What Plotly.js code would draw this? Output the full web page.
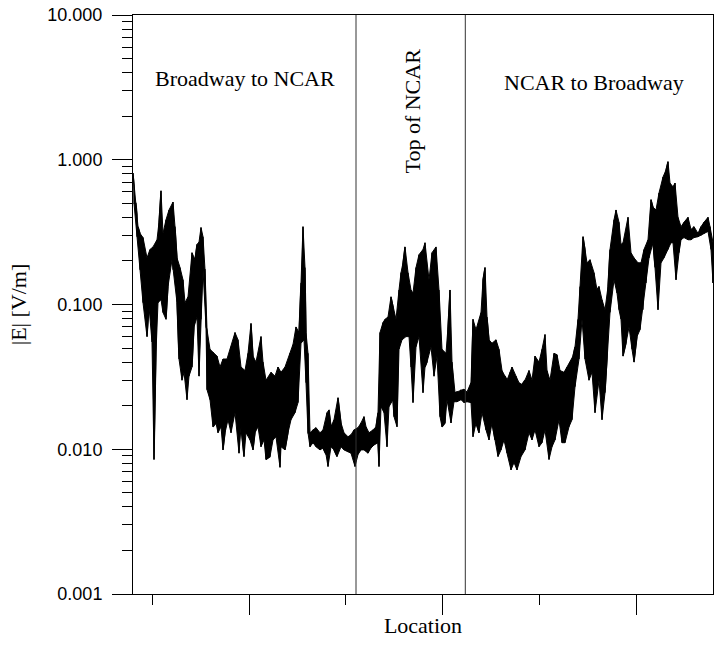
<!DOCTYPE html>
<html>
<head>
<meta charset="utf-8">
<script src="https://cdn.plot.ly/plotly-3.0.1.min.js"></script>
<style>
html,body{margin:0;padding:0;background:#fff;}
#chart{width:714px;height:651px;}
</style>
</head>
<body>
<div id="chart"></div>
<script>
// Upper envelope of the measured |E| trace (Location units, V/m)
var xHi = [
  0,1,3,4,5,7,10,14,17,20,
  24,26,28,30,33,36,40,42,44,47,
  50,52,55,59,62,64,66,68,70,72,
  74,77,80,84,87,90,94,98,102,105,
  108,112,115,118,120,123,128,130,133,138,
  142,145,148,152,157,160,163,166,168,170,
  172,173,175,177,180,183,187,190,194,196,
  198,201,205,208,211,215,218,221,225,228,
  231,233,236,240,243,245,247,250,252,255,
  258,260,263,266,268,270,272,275,278,280,
  283,286,290,292,296,299,303,306,309,313,
  315,317,319,322,324,328,331,334,338,340,
  343,348,350,352,354,356,359,363,366,369,
  372,374,377,379,383,386,389,392,396,399,
  402,406,409,412,414,417,421,424,427,431,
  434,437,440,442,445,447,450,452,454,457,
  461,464,466,469,472,475,477,481,483,486,
  488,490,495,498,501,505,508,511,515,518,
  520,523,526,530,533,535,537,540,542,545,
  548,551,555,558,561,565,568,571,575,577,
  580
];
var eHi = [
  0.81,0.67,0.50,0.42,0.345,0.31,0.29,0.21,0.24,0.25,
  0.28,0.37,0.61,0.31,0.385,0.45,0.51,0.345,0.21,0.18,
  0.148,0.103,0.113,0.228,0.204,0.26,0.27,0.34,0.294,0.174,
  0.067,0.049,0.047,0.044,0.037,0.042,0.042,0.051,0.064,0.057,
  0.037,0.035,0.046,0.074,0.044,0.040,0.060,0.040,0.030,0.034,
  0.032,0.037,0.034,0.037,0.046,0.053,0.070,0.064,0.141,0.345,
  0.18,0.064,0.046,0.013,0.0136,0.0141,0.013,0.0136,0.0179,0.0187,
  0.0143,0.016,0.0227,0.0152,0.013,0.0122,0.0126,0.0136,0.0141,0.0152,
  0.0168,0.0143,0.013,0.0136,0.0143,0.0179,0.064,0.075,0.079,0.082,
  0.113,0.0965,0.079,0.126,0.166,0.194,0.25,0.166,0.126,0.12,
  0.18,0.221,0.24,0.267,0.148,0.228,0.25,0.126,0.049,0.046,
  0.070,0.126,0.040,0.0246,0.0249,0.0258,0.026,0.0249,0.0288,0.079,
  0.067,0.088,0.148,0.18,0.082,0.057,0.054,0.057,0.049,0.035,
  0.032,0.030,0.034,0.037,0.032,0.0288,0.028,0.030,0.035,0.030,
  0.044,0.040,0.049,0.062,0.035,0.030,0.046,0.045,0.035,0.034,
  0.037,0.040,0.044,0.051,0.079,0.133,0.294,0.24,0.194,0.204,
  0.166,0.126,0.133,0.108,0.092,0.133,0.24,0.385,0.45,0.37,
  0.26,0.267,0.40,0.228,0.21,0.194,0.194,0.24,0.28,0.53,
  0.47,0.45,0.59,0.76,0.85,0.97,0.69,0.65,0.69,0.40,
  0.345,0.37,0.40,0.33,0.345,0.31,0.345,0.37,0.40,0.345,
  0.267
];
// Lower envelope of the measured |E| trace
var xLo = [
  1,4,7,10,14,16,19,21,23,25,
  28,30,33,35,39,40,44,46,49,51,
  54,56,59,61,64,66,68,70,73,74,
  77,80,83,85,88,90,92,95,98,102,
  106,108,111,113,117,120,122,125,128,131,
  133,137,140,143,147,148,152,155,158,162,
  165,168,171,173,175,177,180,183,187,190,
  193,195,198,201,204,208,211,215,218,222,
  225,228,231,235,238,241,245,246,248,251,
  254,256,260,261,264,266,269,273,276,278,
  280,283,286,290,292,294,298,301,304,307,
  309,312,314,318,321,324,328,331,334,338,
  340,343,346,349,353,356,359,362,365,368,
  371,374,378,381,384,388,392,396,399,402,
  406,409,412,416,419,422,426,429,432,436,
  439,442,446,449,452,456,459,462,466,469,
  472,474,477,481,484,486,488,490,493,496,
  499,501,504,507,510,513,516,520,522,525,
  528,531,535,538,540,543,546,548,551,555,
  558,561,565,568,571,575,578,580
];
var eLo = [
  0.50,0.294,0.174,0.103,0.060,0.0965,0.055,0.0085,0.047,0.103,
  0.108,0.088,0.079,0.133,0.204,0.174,0.103,0.042,0.030,0.034,
  0.022,0.032,0.037,0.070,0.082,0.032,0.079,0.174,0.070,0.0258,
  0.022,0.0143,0.0152,0.013,0.0143,0.0099,0.013,0.016,0.013,0.0179,
  0.0094,0.0143,0.0089,0.013,0.0116,0.0099,0.013,0.0143,0.0104,0.0116,
  0.0085,0.0089,0.0116,0.0122,0.0075,0.0104,0.0099,0.013,0.016,0.0179,
  0.021,0.054,0.057,0.0288,0.013,0.0104,0.0111,0.0104,0.0099,0.0102,
  0.0092,0.0076,0.0104,0.0099,0.0089,0.0104,0.0099,0.0096,0.0094,0.0076,
  0.0092,0.0099,0.0099,0.0094,0.0102,0.0107,0.0111,0.0076,0.0197,0.0179,
  0.0104,0.0197,0.022,0.0168,0.0143,0.049,0.057,0.060,0.060,0.037,
  0.021,0.051,0.060,0.0246,0.037,0.040,0.051,0.032,0.044,0.0168,
  0.0143,0.0152,0.022,0.0152,0.0213,0.0213,0.022,0.021,0.0213,0.021,
  0.0122,0.0152,0.013,0.0179,0.0136,0.0116,0.0152,0.0116,0.0089,0.0099,
  0.0116,0.0094,0.0072,0.0081,0.0072,0.0089,0.0099,0.013,0.0116,0.0136,
  0.0104,0.0111,0.0136,0.0085,0.0104,0.0116,0.016,0.0111,0.0111,0.0143,
  0.016,0.027,0.042,0.079,0.042,0.030,0.034,0.0179,0.030,0.016,
  0.0246,0.042,0.088,0.148,0.12,0.092,0.079,0.044,0.054,0.070,
  0.049,0.040,0.060,0.067,0.092,0.141,0.21,0.267,0.18,0.092,
  0.194,0.21,0.24,0.267,0.267,0.148,0.228,0.28,0.29,0.28,
  0.28,0.29,0.294,0.30,0.31,0.32,0.24,0.141
];
// Segment boundaries (Location units) and labels
var segBounds = [223, 332.3];
var segLabels = ["Broadway to NCAR", "Top of NCAR", "NCAR to Broadway"];
var yTickLabels = ["0.001", "0.010", "0.100", "1.000", "10.000"];

// Band polygon (upper envelope forward, lower envelope back)
var polyX = xHi.concat(xLo.slice().reverse());
var polyY = eHi.concat(eLo.slice().reverse());

// Noise trace: the same readings visited in Location order
var merged = xHi.map(function (x, i) { return [x, eHi[i]]; })
  .concat(xLo.map(function (x, i) { return [x, eLo[i]]; }))
  .sort(function (a, b) { return a[0] - b[0]; });

var serif = "Liberation Serif, Times New Roman, Times, serif";
var sans = "Liberation Sans, Arial, Helvetica, sans-serif";

var traces = [{
  type: 'scatter', mode: 'lines',
  x: polyX, y: polyY,
  fill: 'toself', fillcolor: '#000',
  line: {color: '#000', width: 1},
  hoverinfo: 'skip', showlegend: false
}, {
  type: 'scatter', mode: 'lines',
  x: merged.map(function (p) { return p[0]; }),
  y: merged.map(function (p) { return p[1]; }),
  line: {color: '#000', width: 1.3},
  hoverinfo: 'skip', showlegend: false
}];

var annFont = {family: serif, size: 22, color: '#000'};

var layout = {
  width: 714, height: 651,
  margin: {l: 133, r: 1, t: 15, b: 57, pad: 0},
  paper_bgcolor: '#fff', plot_bgcolor: '#fff',
  showlegend: false,
  font: {family: sans, color: '#000'},
  xaxis: {
    range: [0, 580], showgrid: false, zeroline: false,
    showline: true, mirror: true, linecolor: '#000', linewidth: 1,
    ticks: 'outside', ticklen: 20, tickwidth: 1, tickcolor: '#000',
    tickmode: 'linear', tick0: 116.1, dtick: 193.5,
    showticklabels: false,
    minor: {ticks: 'outside', ticklen: 10, tickwidth: 1, tickcolor: '#000',
            tickmode: 'linear', tick0: 19.35, dtick: 96.75, showgrid: false},
    title: {text: 'Location', font: {family: serif, size: 22, color: '#000'}, standoff: 3}
  },
  yaxis: {
    type: 'log', range: [-3, 1], showgrid: false, zeroline: false,
    showline: true, mirror: true, linecolor: '#000', linewidth: 1,
    ticks: 'outside', ticklen: 20, tickwidth: 1, tickcolor: '#000',
    tickmode: 'array', tickvals: [0.001, 0.01, 0.1, 1, 10], ticktext: yTickLabels,
    tickfont: {family: sans, size: 18, color: '#000'},
    ticklabelstandoff: 6,
    minor: {ticks: 'outside', ticklen: 10, tickwidth: 1, tickcolor: '#000', dtick: 'D1', showgrid: false},
    title: {text: '|E| [V/m]', font: {family: serif, size: 22, color: '#000'}, standoff: 14}
  },
  shapes: segBounds.map(function (b) {
    return {type: 'line', xref: 'x', yref: 'paper', x0: b, x1: b, y0: 0, y1: 1,
            line: {color: '#333', width: 1}};
  }),
  annotations: [
    {text: segLabels[0], xref: 'x', yref: 'paper', x: 112, y: 0.891,
     xanchor: 'center', yanchor: 'middle', showarrow: false, font: annFont},
    {text: segLabels[1], xref: 'x', yref: 'paper', x: 280, y: 0.8333,
     xanchor: 'center', yanchor: 'middle', showarrow: false, textangle: -90, font: annFont},
    {text: segLabels[2], xref: 'x', yref: 'paper', x: 461, y: 0.8826,
     xanchor: 'center', yanchor: 'middle', showarrow: false, font: annFont}
  ]
};

Plotly.newPlot('chart', traces, layout, {displayModeBar: false, staticPlot: true});
</script>
</body>
</html>
